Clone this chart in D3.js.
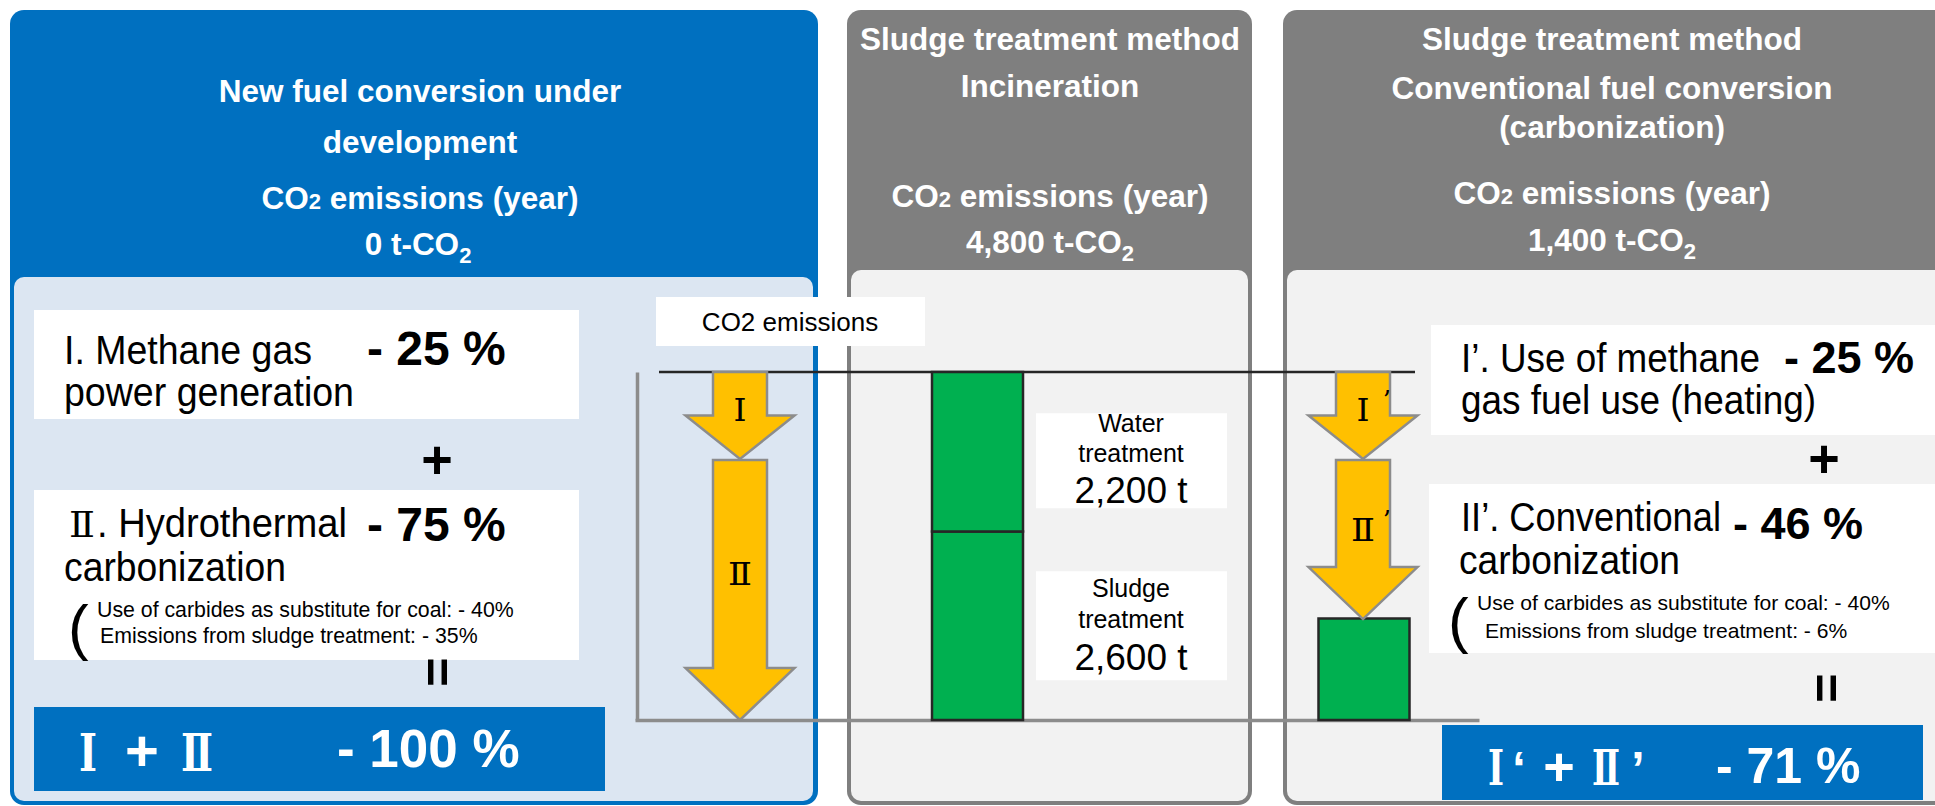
<!DOCTYPE html>
<html><head><meta charset="utf-8">
<script src="https://cdn.jsdelivr.net/npm/d3@7"></script>
<style>html,body{margin:0;padding:0;background:#fff;overflow:hidden}svg{display:block}</style>
</head><body><svg id="c" width="1935" height="806"></svg>
<script>
// ---------- data ----------
const scenarios = ["New fuel conversion under development", "Incineration", "Conventional fuel conversion (carbonization)"];
const scenarioTotals = [0, 4800, 1400];            // t-CO2 / year
const incinerationParts = ["Sludge treatment", "Water treatment"];
const incinerationValues = [2600, 2200];           // t
const carbonizationValues = [1400];                // t
const newFuelSteps = ["Ⅰ", "Ⅱ"];
const newFuelReductionPct = [25, 75];              // % of incineration emissions
const conventionalSteps = ["Ⅰ", "Ⅱ"];
const conventionalReductionPct = [25, 46];
const newFuelTotalPct = -100;
const conventionalTotalPct = -71;

// ---------- setup ----------
const svg = d3.select("#c");
const SANS = "'Liberation Sans', Arial, Helvetica, sans-serif";
const SERIF = "'DejaVu Serif', 'Liberation Serif', serif";
const BLUE = "#0070c0", LBLUE = "#dce6f2", GRAY = "#7f7f7f", LGRAY = "#f2f2f2";

function roundedTop(x, y, w, h, r) {
  const p = d3.path();
  p.moveTo(x, y + r); p.arcTo(x, y, x + r, y, r); p.lineTo(x + w - r, y); p.arcTo(x + w, y, x + w, y + r, r);
  p.lineTo(x + w, y + h - r); p.arcTo(x + w, y + h, x + w - r, y + h, r); p.lineTo(x + r, y + h); p.arcTo(x, y + h, x, y + h - r, r);
  p.closePath(); return p.toString();
}
function txt(g, x, y, s, o = {}) {
  const t = g.append("text").attr("x", x).attr("y", y)
    .attr("font-family", o.family || SANS).attr("font-size", o.size || 20)
    .attr("font-weight", o.weight || "normal").attr("fill", o.fill || "#000")
    .attr("text-anchor", o.anchor || "start");
  if (o.tl) t.attr("textLength", o.tl).attr("lengthAdjust", "spacingAndGlyphs");
  if (s !== null) t.text(s);
  return t;
}

// ---------- panels ----------
const panels = svg.append("g");
panels.append("path").attr("d", roundedTop(10, 10, 808, 795, 14)).attr("fill", BLUE);
panels.append("path").attr("d", roundedTop(14, 277, 799, 524, 10)).attr("fill", LBLUE);
panels.append("path").attr("d", roundedTop(847, 10, 405, 795, 14)).attr("fill", GRAY);
panels.append("path").attr("d", roundedTop(851, 270, 397, 531, 10)).attr("fill", LGRAY);
panels.append("path").attr("d", roundedTop(1283, 10, 720, 795, 14)).attr("fill", GRAY);
panels.append("path").attr("d", roundedTop(1287, 270, 720, 531, 10)).attr("fill", LGRAY);

// ---------- headers ----------
const H = svg.append("g");
const hOpt = { size: 31.5, weight: "bold", fill: "#fff", anchor: "middle" };
function co2Line(x, y) {
  const t = txt(H, x, y, null, hOpt);
  t.append("tspan").text("CO");
  t.append("tspan").attr("font-size", 22).text("2");
  t.append("tspan").text(" emissions (year)");
}
function totalLine(x, y, v) {
  const t = txt(H, x, y, null, hOpt);
  t.append("tspan").text(d3.format(",")(v) + " t-CO");
  t.append("tspan").attr("font-size", 22).attr("dy", 8).text("2");
}
txt(H, 420, 102, "New fuel conversion under", hOpt);
txt(H, 420, 153, "development", hOpt);
co2Line(420, 209); totalLine(418, 255, scenarioTotals[0]);

txt(H, 1050, 50, "Sludge treatment method", hOpt);
txt(H, 1050, 97, "Incineration", hOpt);
co2Line(1050, 207); totalLine(1050, 253, scenarioTotals[1]);

txt(H, 1612, 50, "Sludge treatment method", hOpt);
txt(H, 1612, 99, "Conventional fuel conversion", hOpt);
txt(H, 1612, 138, "(carbonization)", hOpt);
co2Line(1612, 204); totalLine(1612, 251, scenarioTotals[2]);

// ---------- chart ----------
const y = d3.scaleLinear().domain([0, scenarioTotals[1]]).range([720, 372]);
const x = d3.scaleOrdinal().domain(scenarios).range([740, 977.5, 1364]);
const barW = 91;
const C = svg.append("g");

const yAxisScale = y.copy().domain([0, y.invert(322)]);
C.append("g").attr("transform", "translate(637,0)")
  .call(d3.axisLeft(yAxisScale).tickValues([]).tickSizeOuter(0))
  .call(g => g.select(".domain").attr("stroke", "#8c8c8c").attr("stroke-width", 3.5));
const xLine = d3.scaleLinear().domain([0, 1]).range([635, 1479]);
C.append("g").attr("transform", `translate(0,${y(0)})`)
  .call(d3.axisBottom(xLine).tickValues([]).tickSizeOuter(0))
  .call(g => g.select(".domain").attr("stroke", "#8c8c8c").attr("stroke-width", 3.5));
C.append("line").attr("x1", 659).attr("x2", 1415).attr("y1", y(scenarioTotals[1])).attr("y2", y(scenarioTotals[1]))
  .attr("stroke", "#262626").attr("stroke-width", 2.5);

C.append("rect").attr("x", 656).attr("y", 297).attr("width", 269).attr("height", 49).attr("fill", "#fff");
txt(C, 790, 331, "CO2 emissions", { size: 26, anchor: "middle" });

const stack = incinerationValues.map((v, i) => ({ name: incinerationParts[i], v0: d3.sum(incinerationValues.slice(0, i)), v }));
C.selectAll("rect.inc").data(stack).join("rect").attr("class", "inc")
  .attr("x", x(scenarios[1]) - barW / 2).attr("width", barW)
  .attr("y", d => y(d.v0 + d.v)).attr("height", d => y(d.v0) - y(d.v0 + d.v))
  .attr("fill", "#00b050").attr("stroke", "#262626").attr("stroke-width", 2.5);
C.selectAll("rect.carb").data(carbonizationValues).join("rect").attr("class", "carb")
  .attr("x", x(scenarios[2]) - barW / 2).attr("width", barW)
  .attr("y", d => y(d)).attr("height", d => y(0) - y(d))
  .attr("fill", "#00b050").attr("stroke", "#262626").attr("stroke-width", 2.5);

const segLabels = [
  { d: stack[1], lines: ["Water", "treatment"], off: 9 },
  { d: stack[0], lines: ["Sludge", "treatment"], off: 0 }
];
segLabels.forEach((s, i) => {
  const mid = (y(s.d.v0) + y(s.d.v0 + s.d.v)) / 2 + s.off;
  const h = i === 0 ? 95 : 109;
  C.append("rect").attr("x", 1036).attr("y", mid - h / 2).attr("width", 191).attr("height", h).attr("fill", "#fff");
  const base = mid - h / 2;
  const sp = i === 0 ? [19, 49, 90] : [26, 57, 99];
  txt(C, 1131, base + sp[0], s.lines[0], { size: 25, anchor: "middle" });
  txt(C, 1131, base + sp[1], s.lines[1], { size: 25, anchor: "middle" });
  txt(C, 1131, base + sp[2], d3.format(",")(s.d.v) + " t", { size: 37, anchor: "middle" });
});

function arrowPath(cx, y0, y1) {
  const len = y1 - y0, h = Math.min(len / 2, 52), bw = 27, hw = 54.5, ys = y1 - h;
  return `M${cx - bw},${y0}H${cx + bw}V${ys}H${cx + hw}L${cx},${y1}L${cx - hw},${ys}H${cx - bw}Z`;
}
function drawArrows(pcts, labels, prime, cx) {
  let cum = 0;
  pcts.forEach((p, i) => {
    const v0 = scenarioTotals[1] * (1 - cum / 100);
    const v1 = scenarioTotals[1] * (1 - (cum + p) / 100);
    cum += p;
    const y0 = y(v0) + (i === 0 ? 0 : 1), y1 = y(v1);
    C.append("path").attr("d", arrowPath(cx, y0, y1)).attr("fill", "#ffc000")
      .attr("stroke", "#8c8c8c").attr("stroke-width", 2.5).attr("stroke-linejoin", "miter");
    const yc = y0 + 0.44 * (y1 - y0);
    txt(C, cx, yc + 11, labels[i], { size: 32, family: SERIF, anchor: "middle", tl: i === 0 ? 13 : 24 });
    if (prime) {
      txt(C, cx + 24, yc - 1, "’", { size: 26, family: SERIF, anchor: "middle" });
    }
  });
}
drawArrows(newFuelReductionPct, newFuelSteps, false, x(scenarios[0]));
drawArrows(conventionalReductionPct, conventionalSteps, true, x(scenarios[2]) - 1);

// ---------- left explanation boxes ----------
const L = svg.append("g");
const BODY = 40;
L.append("rect").attr("x", 34).attr("y", 310).attr("width", 545).attr("height", 109).attr("fill", "#fff");
txt(L, 64, 364, "I. Methane gas", { size: BODY, tl: 248 });
txt(L, 64, 406, "power generation", { size: BODY, tl: 290 });
txt(L, 367, 365, `- ${newFuelReductionPct[0]} %`, { size: 48, weight: "bold" });
txt(L, 437, 478, "+", { size: 54, weight: "bold", anchor: "middle" });

L.append("rect").attr("x", 34).attr("y", 490).attr("width", 545).attr("height", 170).attr("fill", "#fff");
txt(L, 82, 537, "Ⅱ", { size: 36, family: SERIF, anchor: "middle", tl: 26 });
txt(L, 97, 537, ". Hydrothermal", { size: BODY, tl: 250 });
txt(L, 64, 581, "carbonization", { size: BODY, tl: 222 });
txt(L, 367, 541, `- ${newFuelReductionPct[1]} %`, { size: 48, weight: "bold" });
txt(L, 68, 648, "(", { size: 62, weight: "lighter" });
txt(L, 97, 617, "Use of carbides as substitute for coal: - 40%", { size: 21.3 });
txt(L, 100, 643, "Emissions from sludge treatment: - 35%", { size: 21.3 });
txt(L, 437, 672, "=", { size: 50, weight: "bold", anchor: "middle" })
  .attr("transform", "rotate(90,437,672)").attr("dy", 17);

L.append("rect").attr("x", 34).attr("y", 707).attr("width", 571).attr("height", 84).attr("fill", BLUE);
const wb = { size: 52, weight: "bold", fill: "#fff", family: SERIF, anchor: "middle" };
txt(L, 88, 771, "Ⅰ", Object.assign({}, wb, { tl: 18 }));
txt(L, 142, 771, "+", Object.assign({}, wb, { family: SANS, size: 58 }));
txt(L, 197, 771, "Ⅱ", Object.assign({}, wb, { tl: 32 }));
txt(L, 337, 767, `- ${Math.abs(newFuelTotalPct)} %`, { size: 53, weight: "bold", fill: "#fff" });

// ---------- right explanation boxes ----------
const R = svg.append("g");
R.append("rect").attr("x", 1431).attr("y", 325).attr("width", 520).attr("height", 110).attr("fill", "#fff");
txt(R, 1461, 372, "I’. Use of methane", { size: BODY, tl: 299 });
txt(R, 1461, 414, "gas fuel use (heating)", { size: BODY, tl: 355 });
txt(R, 1784, 373, `- ${conventionalReductionPct[0]} %`, { size: 45, weight: "bold" });
txt(R, 1824, 477, "+", { size: 54, weight: "bold", anchor: "middle" });

R.append("rect").attr("x", 1429).attr("y", 484).attr("width", 520).attr("height", 169).attr("fill", "#fff");
txt(R, 1461, 531, "II’. Conventional", { size: BODY, tl: 260 });
txt(R, 1459, 574, "carbonization", { size: BODY, tl: 221 });
txt(R, 1733, 539, `- ${conventionalReductionPct[1]} %`, { size: 45, weight: "bold" });
txt(R, 1448, 641, "(", { size: 62, weight: "lighter" });
txt(R, 1477, 610, "Use of carbides as substitute for coal: - 40%", { size: 21.1 });
txt(R, 1485, 638, "Emissions from sludge treatment: - 6%", { size: 21.1 });
txt(R, 1826, 688, "=", { size: 50, weight: "bold", anchor: "middle" })
  .attr("transform", "rotate(90,1826,688)").attr("dy", 17);

R.append("rect").attr("x", 1442).attr("y", 725).attr("width", 481).attr("height", 75).attr("fill", BLUE);
const wr = { size: 48, weight: "bold", fill: "#fff", family: SERIF, anchor: "middle" };
txt(R, 1496, 785, "Ⅰ", Object.assign({}, wr, { tl: 16 }));
txt(R, 1519, 785, "‘", Object.assign({}, wr, { family: SANS }));
txt(R, 1559, 785, "+", Object.assign({}, wr, { family: SANS, size: 54 }));
txt(R, 1606, 785, "Ⅱ", Object.assign({}, wr, { tl: 28 }));
txt(R, 1638, 785, "’", Object.assign({}, wr, { family: SANS }));
txt(R, 1716, 783, `- ${Math.abs(conventionalTotalPct)} %`, { size: 50, weight: "bold", fill: "#fff" });
</script></body></html>
